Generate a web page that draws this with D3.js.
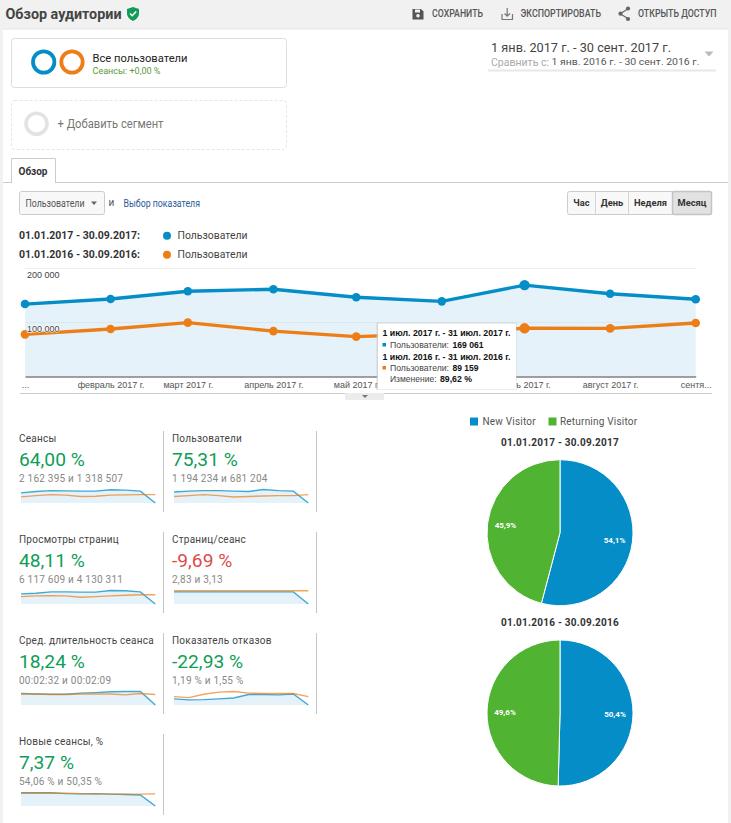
<!DOCTYPE html>
<html lang="ru">
<head>
<meta charset="utf-8">
<script src="https://cdn.jsdelivr.net/npm/d3@7"></script>
<style>
  html, body { margin: 0; padding: 0; background: #fff; }
  svg { display: block; }
  text { font-family: Roboto, sans-serif; }
  .arial text, text.arial { font-family: "Liberation Sans", Arial, sans-serif; }
</style>
</head>
<body>
<div id="chart"></div>
<script>
// main chart data
const months = [new Date(2017,0,1), new Date(2017,1,1), new Date(2017,2,1), new Date(2017,3,1), new Date(2017,4,1),
                new Date(2017,5,1), new Date(2017,6,1), new Date(2017,7,1), new Date(2017,8,1)];
// june label is completely behind the tooltip
const monthLabels = ["...", "февраль 2017 г.", "март 2017 г.", "апрель 2017 г.", "май 2017 г.", "", "июль 2017 г.", "август 2017 г.", "сентя..."];
const users2017 = [134000, 143500, 157700, 161500, 146600, 139000, 169061, 153000, 143000];
const users2016 = [78000, 88000, 99700, 84000, 73700, 79000, 89159, 89000, 99000];
const yTicks = [100000, 200000];
const hoverIndex = 6;

// scorecards
const cardTitles = ["Сеансы", "Пользователи", "Просмотры страниц", "Страниц/сеанс", "Сред. длительность сеанса", "Показатель отказов", "Новые сеансы, %"];
const cardChanges = ["64,00 %", "75,31 %", "48,11 %", "-9,69 %", "18,24 %", "-22,93 %", "7,37 %"];
const cardTotals = ["2 162 395 и 1 318 507", "1 194 234 и 681 204", "6 117 609 и 4 130 311", "2,83 и 3,13", "00:02:32 и 00:02:09", "1,19 % и 1,55 %", "54,06 % и 50,35 %"];
const cardBad = [false, false, false, true, false, false, false];

// sparklines, 100 = top of the little plot
const sparkCurrent = [
  [75,85,92,90,88,88,98,95,88,0],
  [82,88,92,92,88,85,100,92,88,0],
  [75,80,90,90,88,88,100,98,90,0],
  [90,90,90,90,90,90,90,90,90,0],
  [85,82,80,80,88,92,98,100,100,0],
  [45,38,40,45,52,78,78,75,82,0],
  [98,98,98,92,90,92,88,85,82,0]
];
const sparkPrevious = [
  [45,55,62,58,48,50,58,60,62,62],
  [48,55,62,55,45,48,52,55,55,62],
  [55,60,62,60,50,55,60,65,68,68],
  [98,98,98,98,98,98,98,98,98,98],
  [82,82,78,78,82,82,82,75,85,78],
  [62,55,80,95,100,88,85,85,85,62],
  [95,95,95,95,92,90,88,88,88,90]
];

// pies
const pieNames = ["New Visitor", "Returning Visitor"];
const pieTitles = ["01.01.2017 - 30.09.2017", "01.01.2016 - 30.09.2016"];
const pieShares = [[54.1, 45.9], [50.4, 49.6]];

const blue = "#058dc7", orange = "#ed7e17", green = "#50b432";
const width = 731, height = 823;

const svg = d3.select("#chart").append("svg").attr("width", width).attr("height", height);

function txt(g, s, x, y, size, color, opts) {
  opts = opts || {};
  const t = g.append("text").attr("x", x).attr("y", y).attr("dy", "0.35em")
    .attr("font-size", size).attr("fill", color).text(s);
  if (opts.bold) t.attr("font-weight", opts.bold === true ? 700 : opts.bold);
  if (opts.anchor) t.attr("text-anchor", opts.anchor);
  if (opts.w) t.attr("textLength", opts.w).attr("lengthAdjust", "spacingAndGlyphs");
  if (opts.ls) t.attr("letter-spacing", opts.ls);
  if (opts.arial) t.attr("class", "arial");
  return t;
}

// page frame
svg.append("rect").attr("width", width).attr("height", height).attr("fill", "#f1f1f1");
svg.append("rect").attr("x", 3).attr("y", 29).attr("width", 725).attr("height", height - 29).attr("fill", "#fff");
svg.append("line").attr("x1", 3).attr("x2", 728).attr("y1", 29).attr("y2", 29).attr("stroke", "#e4e4e4");

// header
const head = svg.append("g");
txt(head, "Обзор аудитории", 5.5, 13.5, 15, "#444", {bold: 700, w: 116});
head.append("path").attr("d", "M133 7l6 2v4c0 4-2.6 6.4-6 8-3.4-1.6-6-4-6-8V9z").attr("fill", "#0f9d58");
head.append("path").attr("d", "M130 13.5l2.2 2.2 4-4.2").attr("fill", "none").attr("stroke", "#fff").attr("stroke-width", 1.6);

head.append("path").attr("d", "M412.5 9h8.5l2.5 2.5V19.5h-11z").attr("fill", "#555");
head.append("rect").attr("x", 415).attr("y", 9.5).attr("width", 5).attr("height", 3).attr("fill", "#f1f1f1");
head.append("circle").attr("cx", 418).attr("cy", 15.7).attr("r", 1.8).attr("fill", "#f1f1f1");
txt(head, "СОХРАНИТЬ", 432, 13.7, 10, "#555", {bold: 500, w: 51});

head.append("path").attr("d", "M502 14v5.5h10.5V14M507.2 8v8M504.5 13.5l2.7 2.7 2.7-2.7").attr("fill", "none").attr("stroke", "#777").attr("stroke-width", 1.2);
txt(head, "ЭКСПОРТИРОВАТЬ", 520.5, 13.7, 10, "#555", {bold: 500, w: 80.5});

head.append("path").attr("d", "M628 9l-8 4.7 8 4.7").attr("fill", "none").attr("stroke", "#666").attr("stroke-width", 1.2);
[[628, 8.5], [620.5, 13.7], [628, 19]].forEach(function (p) {
  head.append("circle").attr("cx", p[0]).attr("cy", p[1]).attr("r", 2.1).attr("fill", "#666");
});
txt(head, "ОТКРЫТЬ ДОСТУП", 638, 13.7, 10, "#555", {bold: 500, w: 78.5});

// segments
const seg = svg.append("g");
seg.append("rect").attr("x", 11.5).attr("y", 38.5).attr("width", 275).attr("height", 49).attr("rx", 3)
  .attr("fill", "#fff").attr("stroke", "#dedede");
[[43.7, blue], [72, orange]].forEach(function (r) {
  seg.append("circle").attr("cx", r[0]).attr("cy", 62).attr("r", 10.7).attr("fill", "none").attr("stroke", r[1]).attr("stroke-width", 3.8);
});
txt(seg, "Все пользователи", 92.5, 57.5, 11.5, "#222", {w: 95});
txt(seg, "Сеансы: +0,00 %", 92.5, 71, 9.5, "#5b9a3c", {w: 68});
seg.append("rect").attr("x", 11.5).attr("y", 100.5).attr("width", 275).attr("height", 49).attr("rx", 3)
  .attr("fill", "#fff").attr("stroke", "#e6e6e6").attr("stroke-dasharray", "3,2");
seg.append("circle").attr("cx", 36.5).attr("cy", 123.7).attr("r", 10.5).attr("fill", "none").attr("stroke", "#e3e3e3").attr("stroke-width", 3.6);
txt(seg, "+ Добавить сегмент", 57.5, 123.5, 12, "#777", {w: 106});

// date range
const dates = svg.append("g");
txt(dates, "1 янв. 2017 г. - 30 сент. 2017 г.", 491, 47.5, 13.5, "#444", {w: 180});
txt(dates, "Сравнить с:", 491, 62, 10, "#aaa", {w: 58});
txt(dates, "1 янв. 2016 г. - 30 сент. 2016 г.", 551.5, 62, 9.5, "#555", {w: 148});
dates.append("rect").attr("x", 488).attr("y", 69.5).attr("width", 228).attr("height", 2).attr("fill", "#e8e8e8");
dates.append("path").attr("d", "M704.5 51.5h9l-4.5 5z").attr("fill", "#bbb");

// tab
svg.append("line").attr("x1", 3).attr("x2", 728).attr("y1", 182.5).attr("y2", 182.5).attr("stroke", "#ccc");
svg.append("path").attr("d", "M11.5 183V158.5H55.5V183").attr("fill", "#fff").attr("stroke", "#ccc");
svg.append("rect").attr("x", 12).attr("y", 181).attr("width", 43).attr("height", 3).attr("fill", "#fff");
txt(svg, "Обзор", 18.5, 171, 10, "#333", {bold: 700, w: 29});

// metric picker
svg.append("rect").attr("x", 19.5).attr("y", 191.5).attr("width", 85).attr("height", 23).attr("rx", 2)
  .attr("fill", "#f8f8f8").attr("stroke", "#ccc");
txt(svg, "Пользователи", 25.5, 203, 10, "#555", {w: 59});
svg.append("path").attr("d", "M91 201.5h6l-3 3.5z").attr("fill", "#666");
txt(svg, "и", 108.5, 202, 10, "#555");
txt(svg, "Выбор показателя", 123.5, 203, 10, "#2b5c98", {w: 76.5});

// period buttons
const periodNames = ["Час", "День", "Неделя", "Месяц"];
const periodEdges = [567.5, 595.5, 628.5, 672.5, 711.5];
svg.append("rect").attr("x", 567.5).attr("y", 191.5).attr("width", 144).attr("height", 23).attr("rx", 2)
  .attr("fill", "#f8f8f8").attr("stroke", "#ccc");
svg.append("rect").attr("x", 672.5).attr("y", 191.5).attr("width", 39).attr("height", 23).attr("rx", 2)
  .attr("fill", "#e2e2e2").attr("stroke", "#c4c4c4").attr("stroke-width", 1.5);
periodNames.forEach(function (p, i) {
  if (i > 0 && i < 3) svg.append("line").attr("x1", periodEdges[i]).attr("x2", periodEdges[i]).attr("y1", 192).attr("y2", 214).attr("stroke", "#d4d4d4");
  txt(svg, p, (periodEdges[i] + periodEdges[i + 1]) / 2, 203, 9.3, "#333", {bold: 700, anchor: "middle"});
});

// compare legend
[["01.01.2017 - 30.09.2017:", blue, 235.7], ["01.01.2016 - 30.09.2016:", orange, 254.7]].forEach(function (r) {
  txt(svg, r[0], 19, r[2], 10.5, "#333", {bold: 700, w: 121});
  svg.append("circle").attr("cx", 167).attr("cy", r[2]).attr("r", 4).attr("fill", r[1]);
  txt(svg, "Пользователи", 177.5, r[2], 10.5, "#444", {w: 70});
});

// main line chart
const x = d3.scaleTime().domain([months[0], months[months.length - 1]]).range([25, 695.7]);
const y = d3.scaleLinear().domain([0, 200000]).range([376.5, 268.4]);

const main = svg.append("g");
main.append("path").datum(users2017)
  .attr("d", d3.area().x(function (d, i) { return x(months[i]); }).y0(y(0)).y1(function (d) { return y(d); }))
  .attr("fill", "#e5f2f9");
main.selectAll(".grid").data(yTicks).enter().append("line")
  .attr("x1", 25).attr("x2", 695.7)
  .attr("y1", function (d) { return Math.round(y(d)) + 0.5; })
  .attr("y2", function (d) { return Math.round(y(d)) + 0.5; })
  .attr("stroke", function (d) { return d === 200000 ? "#eeeeee" : "#dbe8ee"; });

const xAxis = main.append("g").attr("transform", "translate(0," + 376.5 + ")")
  .call(d3.axisBottom(x).tickValues(months).tickSize(0).tickFormat(function (d, i) { return monthLabels[i]; }));
xAxis.select(".domain").attr("stroke", "#444").attr("stroke-width", 1.2);
xAxis.selectAll("text").attr("class", "arial").attr("font-size", 9).attr("fill", "#555").attr("y", 5).attr("dy", "0.71em");

const lineFor = d3.line().x(function (d, i) { return x(months[i]); }).y(function (d) { return y(d); });
[[users2017, blue], [users2016, orange]].forEach(function (s) {
  main.append("path").datum(s[0]).attr("d", lineFor).attr("fill", "none").attr("stroke", s[1]).attr("stroke-width", 3.4);
  main.selectAll(null).data(s[0]).enter().append("circle")
    .attr("cx", function (d, i) { return x(months[i]); })
    .attr("cy", function (d) { return y(d); })
    .attr("r", function (d, i) { return i === hoverIndex ? 5.2 : 4.3; })
    .attr("fill", s[1]);
});

// y labels sit on top of the lines
main.selectAll(".ylab").data(yTicks).enter().append("text")
  .attr("class", "arial")
  .attr("x", 27).attr("y", function (d) { return y(d) + 6; }).attr("dy", "0.35em")
  .attr("font-size", 9).attr("fill", "#444")
  .attr("paint-order", "stroke").attr("stroke", "#fff").attr("stroke-width", 1.2)
  .text(function (d) { return d3.format(",")(d).replace(",", " "); });

// under-chart rule and handle
svg.append("line").attr("x1", 20).attr("x2", 712).attr("y1", 393.5).attr("y2", 393.5).attr("stroke", "#ccc");
svg.append("rect").attr("x", 345).attr("y", 393).attr("width", 39).attr("height", 7).attr("fill", "#ececec");
svg.append("path").attr("d", "M362 395h6l-3 3z").attr("fill", "#777");

// tooltip
const tip = svg.append("g");
tip.append("rect").attr("x", 376.5).attr("y", 322.5).attr("width", 140).attr("height", 67.5).attr("fill", "#ccc").attr("opacity", 0.7);
tip.append("rect").attr("x", 378).attr("y", 323.5).attr("width", 138).attr("height", 66).attr("fill", "#fff");
txt(tip, "1 июл. 2017 г. - 31 июл. 2017 г.", 382.5, 332.5, 9, "#111", {bold: 700, w: 128, arial: true});
tip.append("rect").attr("x", 382.5).attr("y", 343).attr("width", 3.5).attr("height", 3.5).attr("fill", blue);
txt(tip, "Пользователи:", 390, 344.7, 9, "#444", {w: 59, arial: true});
txt(tip, d3.format(",")(users2017[hoverIndex]).replace(",", " "), 452.5, 344.7, 9, "#111", {bold: 700, w: 31, arial: true});
txt(tip, "1 июл. 2016 г. - 31 июл. 2016 г.", 382.5, 356.5, 9, "#111", {bold: 700, w: 128, arial: true});
tip.append("rect").attr("x", 382.5).attr("y", 366).attr("width", 3.5).attr("height", 3.5).attr("fill", orange);
txt(tip, "Пользователи:", 390, 367.7, 9, "#444", {w: 59, arial: true});
txt(tip, d3.format(",")(users2016[hoverIndex]).replace(",", " "), 452.5, 367.7, 9, "#111", {bold: 700, w: 26, arial: true});
txt(tip, "Изменение:", 390, 379, 9, "#444", {w: 46.5, arial: true});
txt(tip, "89,62 %", 440, 379, 9, "#111", {bold: 700, w: 32, arial: true});

// scorecards
const rowTops = [431, 532, 633, 734];
const colLefts = [19, 172];
cardTitles.forEach(function (title, i) {
  const col = i % 2, row = Math.floor(i / 2);
  const top = rowTops[row], left = colLefts[col];
  const card = svg.append("g");
  txt(card, title, left, top + 7.5, 10, "#444", {ls: 0.24});
  txt(card, cardChanges[i], left, top + 28.5, 19.2, cardBad[i] ? "#dd4b4b" : "#0f9d58");
  txt(card, cardTotals[i], left, top + 47, 10, "#888", {ls: 0.23});
  const divX = 163.5 + col * 153;
  card.append("line").attr("x1", divX).attr("x2", divX).attr("y1", top).attr("y2", top + 81).attr("stroke", "#c4c4c4");

  const sx = d3.scaleLinear().domain([0, 9]).range([left + 2, left + 136.3]);
  const sy = d3.scaleLinear().domain([0, 100]).range([top + 72, top + 58.5]);
  card.append("path").datum(sparkCurrent[i])
    .attr("d", d3.area().x(function (d, k) { return sx(k); }).y0(sy(0)).y1(function (d) { return sy(d); }))
    .attr("fill", "#e5f2f9");
  const sl = d3.line().x(function (d, k) { return sx(k); }).y(function (d) { return sy(d); });
  card.append("path").datum(sparkCurrent[i]).attr("d", sl).attr("fill", "none").attr("stroke", blue).attr("stroke-width", 1.4).attr("opacity", 0.75);
  card.append("path").datum(sparkPrevious[i]).attr("d", sl).attr("fill", "none").attr("stroke", orange).attr("stroke-width", 1.4).attr("opacity", 0.7);
});

// pie legend
const pieColors = d3.scaleOrdinal().domain(pieNames).range([blue, green]);
[[470, 482.5], [548.5, 560]].forEach(function (p, i) {
  svg.append("rect").attr("x", p[0]).attr("y", 417.5).attr("width", 8).attr("height", 8).attr("fill", pieColors(pieNames[i]));
  txt(svg, pieNames[i], p[1], 421.5, 10, "#555", {ls: 0.2});
});

// pies
const pieCentersY = [532.7, 713];
const pieTitleY = [442, 622];
const pie = d3.pie().sort(null).value(function (d) { return d; });
const sliceArc = d3.arc().innerRadius(0).outerRadius(73);
const labelArc = d3.arc().innerRadius(55).outerRadius(55);
pieShares.forEach(function (shares, i) {
  txt(svg, pieTitles[i], 560, pieTitleY[i], 10, "#333", {bold: 700, anchor: "middle", ls: 0.25});
  const g = svg.append("g").attr("transform", "translate(560," + pieCentersY[i] + ")");
  const slices = g.selectAll(".slice").data(pie(shares)).enter().append("g").attr("class", "slice");
  slices.append("path").attr("d", sliceArc)
    .attr("fill", function (d, k) { return pieColors(pieNames[k]); })
    .attr("stroke", "#fff").attr("stroke-width", 1);
  slices.append("text")
    .attr("transform", function (d) { return "translate(" + labelArc.centroid(d) + ")"; })
    .attr("dy", "0.35em").attr("text-anchor", "middle")
    .attr("font-size", 8).attr("font-weight", 700).attr("fill", "#fff")
    .text(function (d) { return String(d.data).replace(".", ",") + "%"; });
});
</script>
</body>
</html>
